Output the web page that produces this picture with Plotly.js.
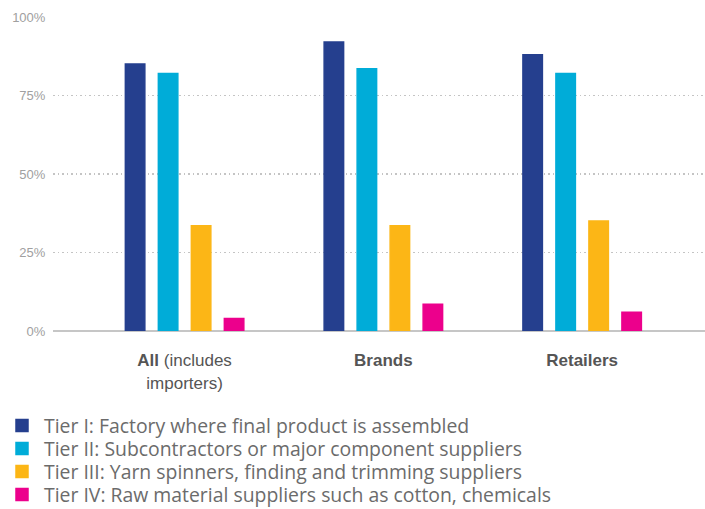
<!DOCTYPE html>
<html>
<head>
<meta charset="utf-8">
<script src="https://cdn.plot.ly/plotly-3.0.1.min.js"></script>
<style>html,body{margin:0;padding:0;background:#fff;}#chart{width:705px;height:509px;}</style>
</head>
<body>
<div id="chart"></div>
<script>
const categories = ["All", "Brands", "Retailers"];
const categoryLabels = ["<b>All</b> (includes<br>importers)", "<b>Brands</b>", "<b>Retailers</b>"];
const seriesNames = [
  "Tier I: Factory where final product is assembled",
  "Tier II: Subcontractors or major component suppliers",
  "Tier III: Yarn spinners, finding and trimming suppliers",
  "Tier IV: Raw material suppliers such as cotton, chemicals"
];
const tier1 = [85, 92, 88];
const tier2 = [82, 83.5, 82];
const tier3 = [33.5, 33.5, 35];
const tier4 = [4, 8.5, 6];
const yTicks = [0, 25, 50, 75, 100];
const yTickLabels = ["0%", "25%", "50%", "75%", "100%"];
const colors = ["#253f8e", "#00acd8", "#fcb616", "#ec008c"];

const values = [tier1, tier2, tier3, tier4];
const legendIds = ["legend", "legend2", "legend3", "legend4"];
const traces = values.map((v, i) => ({
  type: "bar",
  x: categories,
  y: v,
  name: seriesNames[i],
  legend: legendIds[i],
  marker: {color: colors[i], line: {color: colors[i], width: 1.5}},
  hoverinfo: "skip"
}));

const legendRowCenters = [426, 449, 472, 495];
const legendFont = {family: "Open Sans, Liberation Sans, Arial, sans-serif", size: 19.4, color: "#6b6b6b"};

const layout = {
  width: 705,
  height: 509,
  margin: {l: 53, r: 0, t: 17, b: 178, autoexpand: false},
  paper_bgcolor: "#fff",
  plot_bgcolor: "#fff",
  barmode: "group",
  bargap: 0.336,
  bargroupgap: 0.41,
  font: {family: "Liberation Sans, Arial, sans-serif", color: "#666"},
  showlegend: true,
  xaxis: {
    type: "category",
    range: [-0.662, 2.618],
    tickmode: "array",
    tickvals: categories,
    ticktext: categoryLabels,
    tickangle: 0,
    tickfont: {size: 17, color: "#555"},
    ticks: "outside", ticklen: 14, tickcolor: "rgba(0,0,0,0)",
    showgrid: false,
    showline: false,
    zeroline: false,
    fixedrange: true
  },
  yaxis: {
    range: [0, 100],
    tickmode: "array",
    tickvals: yTicks,
    ticktext: yTickLabels,
    tickfont: {size: 13, color: "#a0a0a0"},
    showgrid: true,
    gridcolor: "#c4c4c4",
    griddash: "1.5px,3px",
    gridwidth: 1.5,
    zeroline: true,
    zerolinecolor: "#c6c6c6",
    zerolinewidth: 2,
    ticks: "outside", ticklen: 4, tickcolor: "rgba(0,0,0,0)",
    fixedrange: true
  },
  hovermode: false
};

legendIds.forEach((id, i) => {
  layout[id] = {
    orientation: "v",
    xref: "container", yref: "container",
    x: 0, y: 1 - legendRowCenters[i] / 509,
    xanchor: "left", yanchor: "middle",
    itemwidth: 34,
    font: legendFont,
    bgcolor: "rgba(0,0,0,0)"
  };
});

Plotly.newPlot("chart", traces, layout, {displayModeBar: false, staticPlot: true});
</script>
</body>
</html>
